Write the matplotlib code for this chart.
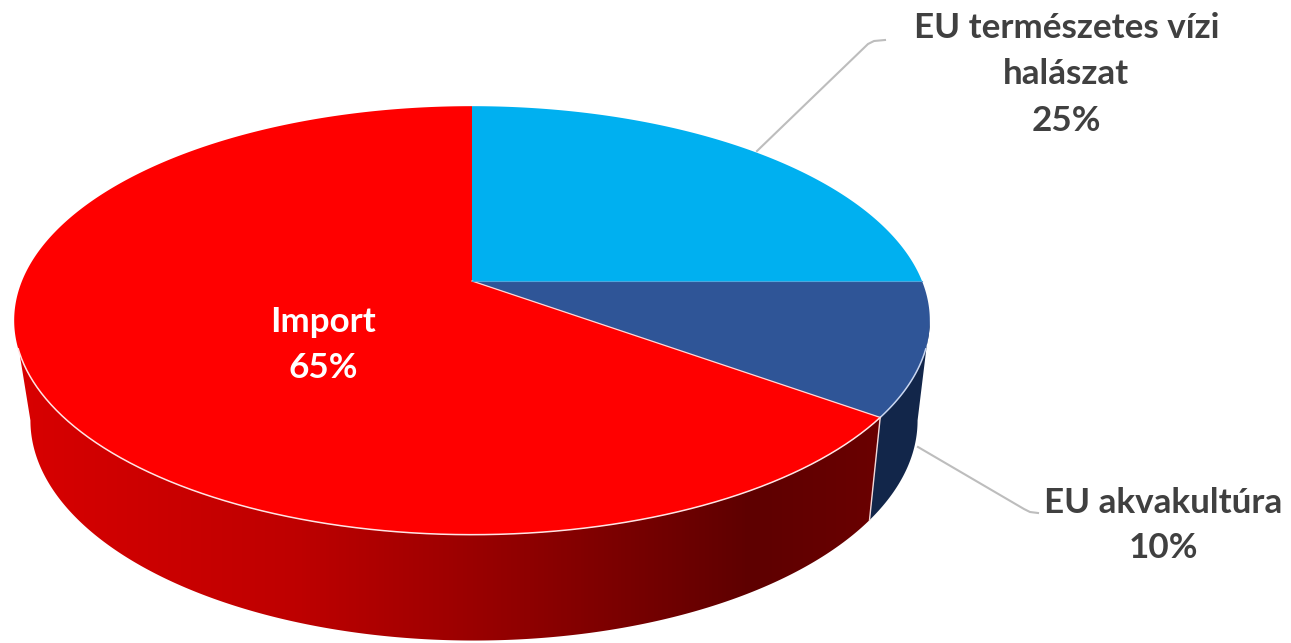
import numpy as np
import matplotlib
matplotlib.use("Agg")
import matplotlib.pyplot as plt
from matplotlib.colors import LinearSegmentedColormap
from matplotlib.patches import Polygon

labels = ["EU természetes vízi\nhalászat", "EU akvakultúra", "Import"]
values = [25, 10, 65]
top_colors = ["#00B0F0", "#2F5597", "#FF0000"]

# top face and bottom rim of the disc, in pixels
TOP = dict(cx=472, cy=281, rx=450, ry=207)
BOTTOM = dict(cx=474, cy=380, rx=436, ry=212.6)
TILT = 0.184


def project(theta, e):
    # theta runs clockwise from 12 o'clock, degrees
    t = np.radians(theta)
    w = 1 + TILT * np.cos(t)
    return e["cx"] + e["rx"] * np.sin(t) / w, e["cy"] - e["ry"] * np.cos(t) / w


def rim(a, b, e):
    th = np.linspace(a, b, max(int(abs(b - a)) * 2, 2))
    x, y = project(th, e)
    return np.column_stack([x, y])


def wall(a, b):
    return np.vstack([rim(a, b, TOP), rim(b, a, BOTTOM)])


fig = plt.figure(figsize=(12.91, 6.43), dpi=100)
ax = fig.add_axes([0, 0, 1, 1])
ax.set_xlim(0, 1291)
ax.set_ylim(643, 0)
ax.axis("off")

edges = np.cumsum([0] + values) * 3.6
# where the disc outline turns from top face to side wall
right_turn = 100.6
left_turn = 259.4

# side walls
navy_wall = Polygon(wall(right_turn, edges[2]), closed=True, fc="#12264A", ec="none", zorder=2)
ax.add_patch(navy_wall)

red_wall = Polygon(wall(edges[2], left_turn), closed=True, fc="none", ec="none", zorder=2)
ax.add_patch(red_wall)
shade = LinearSegmentedColormap.from_list(
    "side", [(0, "#D80000"), (0.32, "#BE0000"), (0.55, "#960000"), (0.85, "#5E0000"), (1, "#6A0000")])
grad = ax.imshow(np.linspace(0, 1, 512)[None, :], cmap=shade, extent=(20, 880, 643, 0),
                 aspect="auto", zorder=2)
grad.set_clip_path(red_wall)
ax.set_xlim(0, 1291)
ax.set_ylim(643, 0)

# seam between the red and navy walls
sx0, sy0 = project(edges[2], TOP)
sx1, sy1 = project(edges[2], BOTTOM)
ax.plot([sx0, sx1], [sy0, sy1], color="#F4D8D8", lw=1.0, zorder=3)

# top face slices
cx, cy = TOP["cx"], TOP["cy"]
for i in range(len(values)):
    pts = np.vstack([[cx, cy], rim(edges[i], edges[i + 1], TOP)])
    ax.add_patch(Polygon(pts, closed=True, fc=top_colors[i], ec="none", zorder=4))

# thin light lines on the front rim and the slice borders
ax.plot(*rim(108, edges[2], TOP).T, color="#C9D6F0", lw=1.1, zorder=5)
ax.plot(*rim(edges[2], 252, TOP).T, color="#FFE4E4", lw=1.1, zorder=5)
ax.plot([cx, sx0], [cy, sy0], color="#FFD8D8", lw=0.9, zorder=5)
bx, by = project(edges[1], TOP)
ax.plot([cx, bx], [cy, by], color="#4FA6DC", lw=0.8, zorder=5)

# leader lines
ax.plot([757, 868, 874, 885], [151, 44, 41, 40], color="#BDBDBD", lw=1.5, zorder=1)
ax.plot([918, 1024, 1030, 1038], [447, 509, 512, 513], color="#BDBDBD", lw=1.5, zorder=1)

font = dict(family="Lato", weight="bold", ha="center", va="center", fontsize=25.2, zorder=6)
ax.text(1067, 28, labels[0].split("\n")[0], color="#404040", **font)
ax.text(1066, 74, labels[0].split("\n")[1], color="#404040", **font)
ax.text(1066, 121, "%d%%" % values[0], color="#404040", **font)
ax.text(1163, 503, labels[1], color="#404040", **font)
ax.text(1163, 548, "%d%%" % values[1], color="#404040", **font)
ax.text(323, 322, labels[2], color="white", **font)
ax.text(323, 368, "%d%%" % values[2], color="white", **font)

fig.savefig("out.png", dpi=100, facecolor="white")
